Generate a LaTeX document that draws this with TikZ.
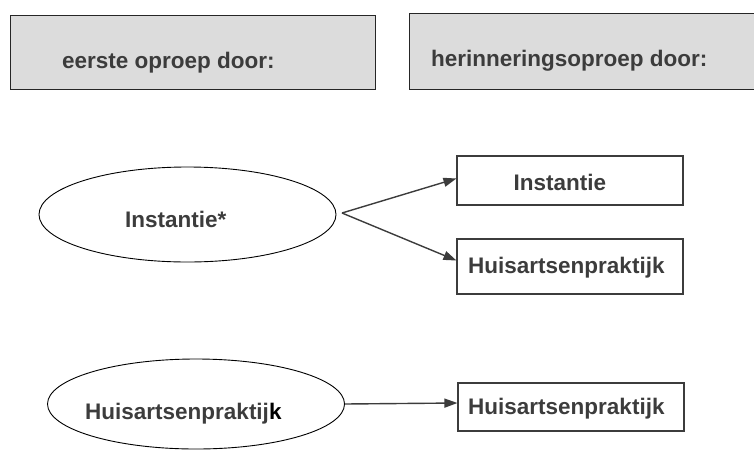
\documentclass[tikz,border=0pt]{standalone}
\usepackage{fontspec}
\setmainfont{Liberation Sans}
\usetikzlibrary{arrows.meta, shapes.geometric, calc}
\definecolor{inkgray}{HTML}{3C3C3C}
\definecolor{panelgray}{HTML}{DCDCDC}

\begin{document}
\begin{tikzpicture}[x=1pt, y=-1pt,
  panel/.style={draw=black!85, line width=1pt, fill=panelgray, rectangle, inner sep=0pt},
  blob/.style={draw=black, line width=0.9pt, ellipse, inner sep=0pt},
  target/.style={draw=inkgray, line width=1.1pt, rectangle, inner sep=0pt, minimum width=226pt},
  lbl/.style={anchor=base west, inner sep=0pt, text=inkgray, font=\bfseries\fontsize{22.5}{27}\selectfont},
  flow/.style={-{Triangle[length=13pt, width=9pt]}, line width=1.4pt, draw=inkgray}]
  \useasboundingbox (0,0) rectangle (754,450);
  % header panels
  \node[panel, minimum width=365pt, minimum height=74pt] (eerste) at (192.5,52) {};
  \node[panel, minimum width=361pt, minimum height=76pt] (herinnering) at (589.5,51) {};
  \node[lbl] (eersteTxt) at (62,68) {eerste oproep door:};
  \node[lbl] (herinneringTxt) at (431,66) {herinneringsoproep door:};
  % first row: Instantie* splits in two
  \node[blob, minimum width=297pt, minimum height=95pt] (instEll) at (187.5,214.5) {};
  \node[lbl] (instEllTxt) at (125,227) {Instantie*};
  \coordinate (split) at (342,213);
  \node[target, minimum height=49pt] (instBox) at (570,180.5) {};
  \node[lbl] (instBoxTxt) at (513.5,190) {Instantie};
  \node[target, minimum height=55pt] (huisBox) at (570,266.5) {};
  \node[lbl] (huisBoxTxt) at (468,273) {Huisartsenpraktijk};
  \draw[flow] (split) -- ($(instBox.west)+(0,-2)$);
  \draw[flow] (split) -- ($(huisBox.west)+(0,-6)$);
  % second row
  \node[blob, minimum width=297pt, minimum height=90pt] (huisEll) at (196,404) {};
  \node[lbl] (huisEllTxt) at (85,419) {Huisartsenpraktij\textcolor{black}{k}};
  \node[target, minimum height=48pt] (huisBox2) at (571,407) {};
  \node[lbl] (huisBox2Txt) at (468,414) {Huisartsenpraktijk};
  \draw[flow] (huisEll.east) -- ($(huisBox2.west)+(0,-4)$);
\end{tikzpicture}
\end{document}
